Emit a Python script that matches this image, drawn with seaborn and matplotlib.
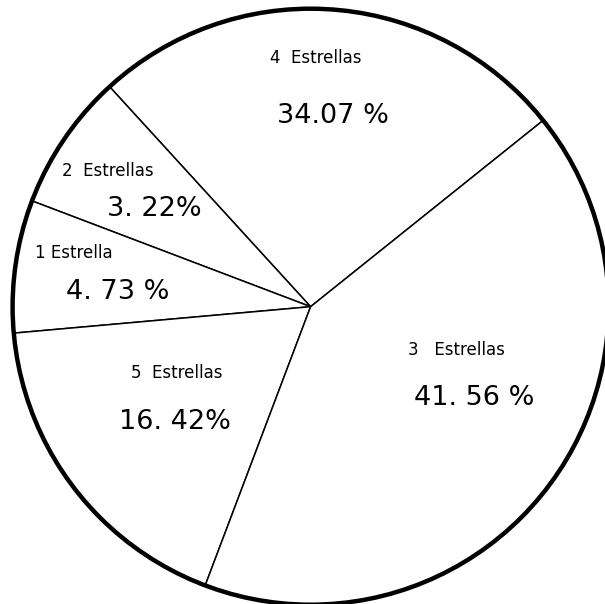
import matplotlib
matplotlib.use("Agg")
import matplotlib.pyplot as plt
import seaborn as sns
from matplotlib.patches import Circle

# Data
categorias = ["4  Estrellas", "2  Estrellas", "1 Estrella", "5  Estrellas", "3   Estrellas"]
porcentajes = ["34.07 %", "3. 22%", "4. 73 %", "16. 42%", "41. 56 %"]
# wedge sizes as drawn in the original (the hand drawing is not to scale)
tamano_dibujo = [26.03, 7.44, 7.19, 17.83, 41.50]

sns.set_theme(style="white")
plt.rcParams['font.family'] = ['DejaVu Sans']
plt.rcParams['text.color'] = 'black'

W, H = 605, 604
fig = plt.figure(figsize=(W / 100, H / 100), dpi=100)
ax = fig.add_axes([0, 0, 1, 1])

cx, cy, r = 310.6, H - 306.7, 298

ax.pie(tamano_dibujo, startangle=38.7, counterclock=True, center=(cx, cy), radius=r,
       colors=["white"] * len(tamano_dibujo),
       wedgeprops=dict(edgecolor="black", linewidth=1.1))
ax.add_patch(Circle((cx, cy), r, fill=False, edgecolor="black", linewidth=3.2, zorder=5))

# label layout (pixel positions, top-left origin)
pos_cat = [(316, 58), (108, 171), (74, 253), (177, 373), (456, 350)]
pos_pct = [(333, 116), (154, 209), (118, 292), (175, 422), (474, 398)]
for cat, pct, pc, pp in zip(categorias, porcentajes, pos_cat, pos_pct):
    ax.text(pc[0], H - pc[1], cat, ha="center", va="center", fontsize=12, color="black")
    ax.text(pp[0], H - pp[1], pct, ha="center", va="center", fontsize=19.5, color="black")

ax.set_xlim(0, W)
ax.set_ylim(0, H)
ax.set_aspect("equal")
ax.axis("off")

fig.savefig("out.png", dpi=100, facecolor="white")
